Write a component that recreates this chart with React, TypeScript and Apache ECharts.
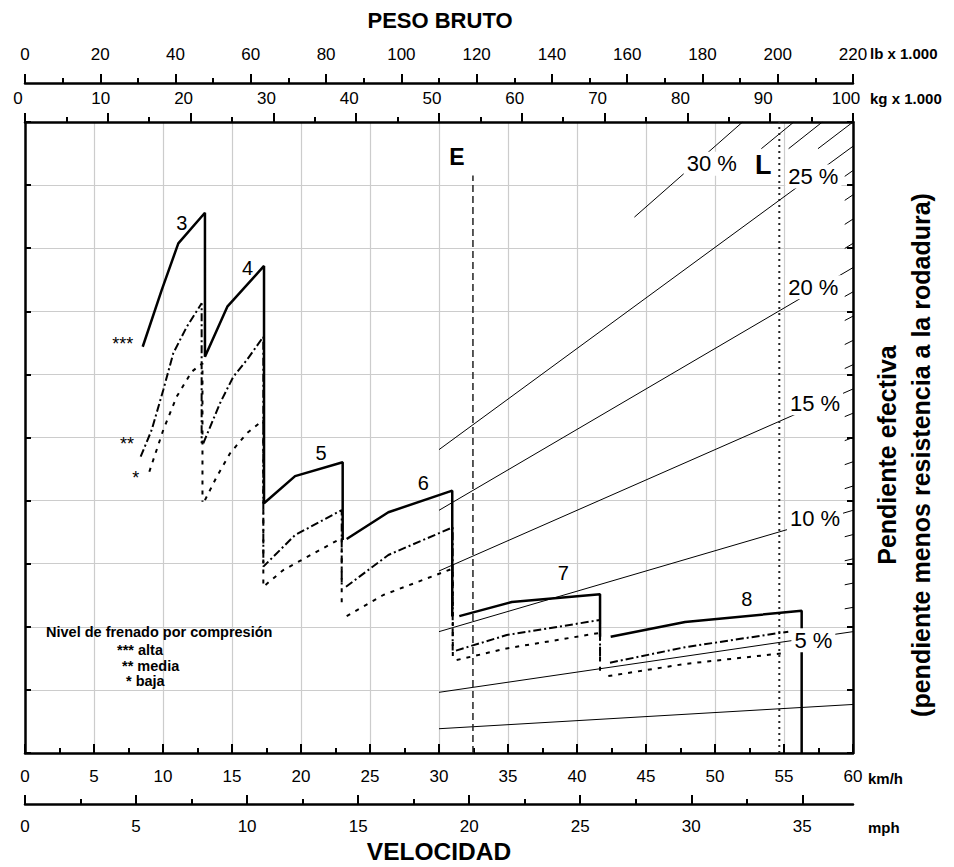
import React, { useEffect, useRef } from "react";
import * as echarts from "echarts";

const FONT = '"Liberation Sans", Arial, Helvetica, sans-serif';

// ---- axes ----
const kmhMax = 60;
const kmhInterval = 5;
const mphPerKmh = 0.621371;
const mphMajorTicks = [0, 5, 10, 15, 20, 25, 30, 35];
const mphMinorTicks = [2.5, 7.5, 12.5, 17.5, 22.5, 27.5, 32.5];
const kgMax = 100;
const kgInterval = 10;
const lbMax = 220;
const lbInterval = 20;
const rimpullMax = 26;
const rimpullInterval = 2.6;

// ---- retarder curves: [km/h, rimpull (t)] one sub-array per continuous stroke ----
const brakeHigh = [
  [[8.53, 16.74], [9.91, 19.08], [11.11, 21.0], [13.04, 22.26], [13.04, 16.33], [14.66, 18.39], [17.32, 20.07], [17.32, 10.29], [19.57, 11.41], [23.02, 11.98], [23.02, 8.78]],
  [[23.31, 8.82], [26.33, 9.92], [30.96, 10.81], [30.96, 5.62]],
  [[31.47, 5.64], [35.27, 6.22], [41.67, 6.54], [41.67, 4.79]],
  [[42.44, 4.79], [47.83, 5.4], [56.28, 5.86], [56.28, 0]],
];
const brakeMedium = [
  [[8.38, 12.21], [9.18, 13.31], [10.02, 14.96], [10.75, 16.48], [11.72, 17.56], [12.8, 18.53], [12.8, 12.76]],
  [[12.92, 12.76], [14.13, 14.41], [15.09, 15.5], [16.07, 16.19], [17.27, 17.15], [17.27, 7.68], [19.57, 8.98], [22.95, 10.01], [22.95, 6.85]],
  [[23.26, 6.85], [26.33, 8.16], [30.99, 9.3], [30.99, 4.22]],
  [[31.23, 4.22], [34.91, 4.86], [41.67, 5.48], [41.67, 3.7]],
  [[42.39, 3.72], [47.83, 4.36], [55.31, 5.0]],
];
const brakeLow = [
  [[9.01, 11.59], [10.02, 13.31], [10.99, 14.68], [12.08, 15.71], [12.86, 16.06], [12.86, 10.35]],
  [[13.04, 10.42], [13.89, 11.38], [14.86, 12.35], [16.07, 13.17], [17.27, 13.72], [17.27, 6.85], [18.72, 7.54], [22.95, 8.86], [22.95, 6.03]],
  [[23.31, 5.64], [25.96, 6.51], [31.0, 7.6], [31.0, 3.86]],
  [[31.28, 3.83], [34.91, 4.31], [41.67, 4.95], [41.67, 3.14]],
  [[42.27, 3.17], [47.83, 3.67], [54.95, 4.11]],
];

const gearLabels = [
  { name: "3", value: [11.36, 21.85] },
  { name: "4", value: [16.12, 19.98] },
  { name: "5", value: [21.45, 12.35] },
  { name: "6", value: [28.86, 11.14] },
  { name: "7", value: [39.01, 7.43] },
  { name: "8", value: [52.3, 6.33] },
];
const levelMarks = [
  { name: "***", value: [7.08, 16.85] },
  { name: "**", value: [7.39, 12.73] },
  { name: "*", value: [8.02, 11.33] },
];

// ---- effective grade lines (weight t on top axis, rimpull = weight x grade) ----
const gradeFullLines = [2, 5, 10, 15, 20, 25];
const gradeFullFrom = 50;
const gradeLongLine = 30;
const gradeLongFrom = 73.6;
const gradeTickGrades = [6, 7, 8, 9, 11, 12, 13, 14, 16, 17, 18, 19, 21, 22, 23, 24];
const gradeTickFrom = 99;
const gradeCornerGrades = [26, 27, 28];
const gradeCornerFromRimpull = 24.9;

const gradeLabels = [
  { name: "30 %", value: [82.94, 24.28] },
  { name: "25 %", value: [95.21, 23.75] },
  { name: "20 %", value: [95.21, 19.19] },
  { name: "15 %", value: [95.41, 14.41] },
  { name: "10 %", value: [95.41, 9.67] },
  { name: "5 %", value: [95.21, 4.65] },
];
const emptyMark = [{ name: "E", value: [52.17, 24.55] }];
const loadedMark = [{ name: "L", value: [89.17, 24.23] }];
const emptyWeight = 54.1;
const emptyLineTop = 23.8;
const loadedWeight = 91.1;

function line(data: number[][], xAxisIndex: number, lineStyle: any, z = 3) {
  return {
    type: "line",
    xAxisIndex,
    yAxisIndex: 0,
    data,
    symbol: "none",
    silent: true,
    lineStyle: { color: "#000", ...lineStyle },
    z,
  };
}

function labels(data: any[], xAxisIndex: number, fontSize: number, bold: boolean, bg: boolean, z = 10) {
  return {
    type: "scatter",
    xAxisIndex,
    yAxisIndex: 0,
    data,
    symbolSize: 0,
    itemStyle: { color: "#000", opacity: 1 },
    silent: true,
    z,
    label: {
      show: true,
      position: "inside",
      formatter: "{b}",
      color: "#000",
      fontSize,
      fontFamily: FONT,
      fontWeight: bold ? "bold" : "normal",
      backgroundColor: bg ? "#fff" : "transparent",
      padding: bg ? [1, 3] : 0,
    },
  };
}

export default function App() {
  const ref = useRef<HTMLDivElement>(null);
  useEffect(() => {
    document.body.style.margin = "0";
    const chart = echarts.init(ref.current!, null, { renderer: "svg" });
    const axisLine = { show: true, onZero: false, lineStyle: { color: "#000", width: 2.5 } };
    const tickStyle = { color: "#000", width: 2 };
    const labelStyle = { color: "#000", fontSize: 17, fontFamily: FONT };

    const series: any[] = [];
    brakeHigh.forEach((s) => series.push(line(s, 0, { width: 2.5, type: "solid" }, 6)));
    brakeMedium.forEach((s) => series.push(line(s, 0, { width: 2, type: [8, 3, 2, 3] }, 5)));
    brakeLow.forEach((s) => series.push(line(s, 0, { width: 2, type: [4, 6] }, 5)));

    gradeFullLines.forEach((g) =>
      series.push(line([[gradeFullFrom, (gradeFullFrom * g) / 100], [kgMax, (kgMax * g) / 100]], 3, { width: 1 }))
    );
    series.push(
      line([[gradeLongFrom, (gradeLongFrom * gradeLongLine) / 100], [(rimpullMax * 100) / gradeLongLine, rimpullMax]], 3, { width: 1 })
    );
    gradeTickGrades.forEach((g) =>
      series.push(line([[gradeTickFrom, (gradeTickFrom * g) / 100], [kgMax, (kgMax * g) / 100]], 3, { width: 1 }))
    );
    gradeCornerGrades.forEach((g) =>
      series.push(line([[(gradeCornerFromRimpull * 100) / g, gradeCornerFromRimpull], [(rimpullMax * 100) / g, rimpullMax]], 3, { width: 1 }))
    );
    series.push(line([[emptyWeight, 0], [emptyWeight, emptyLineTop]], 3, { width: 1.5, type: [7, 4], color: "#222" }, 4));
    series.push(line([[loadedWeight, 0], [loadedWeight, rimpullMax]], 3, { width: 2, type: [2, 4], color: "#222" }, 4));

    series.push(labels(gradeLabels, 3, 22, false, true, 12));
    series.push(labels(emptyMark, 3, 23, true, true, 12));
    series.push(labels(loadedMark, 3, 27, true, true, 12));
    series.push(labels(gearLabels, 0, 20, false, false, 12));
    series.push(labels(levelMarks, 0, 18, false, false, 12));

    const txt = (text: string, x: number, y: number, size: number, align = "left", rotation = 0) => ({
      type: "text",
      x,
      y,
      rotation,
      z: 100,
      silent: true,
      style: {
        text,
        x: 0,
        y: 0,
        fill: "#000",
        font: `bold ${size}px ${FONT}`,
        textAlign: align,
        textVerticalAlign: "middle",
        align,
        verticalAlign: "middle",
      },
    });

    chart.setOption({
      animation: false,
      backgroundColor: "#fff",
      grid: { left: 25, right: 101, top: 122, bottom: 114, containLabel: false },
      xAxis: [
        {
          type: "value",
          position: "bottom",
          min: 0,
          max: kmhMax,
          interval: kmhInterval,
          axisLine,
          axisTick: { show: true, inside: true, length: 9, lineStyle: tickStyle },
          minorTick: { show: true, splitNumber: 2, length: 5, lineStyle: tickStyle },
          axisLabel: { ...labelStyle, margin: 15 },
          splitLine: { show: true, lineStyle: { color: "#cccccc", width: 1.2 } },
        },
        {
          type: "value",
          position: "bottom",
          offset: 51,
          min: 0,
          max: kmhMax * mphPerKmh,
          axisLine,
          axisTick: { show: true, inside: true, length: 9, lineStyle: tickStyle, customValues: mphMajorTicks },
          axisLabel: { ...labelStyle, margin: 14, customValues: mphMajorTicks },
          splitLine: { show: false },
        },
        {
          type: "value",
          position: "bottom",
          offset: 51,
          min: 0,
          max: kmhMax * mphPerKmh,
          axisLine: { show: false, onZero: false },
          axisTick: { show: true, inside: true, length: 5, lineStyle: tickStyle, customValues: mphMinorTicks },
          axisLabel: { show: false },
          splitLine: { show: false },
        },
        {
          type: "value",
          position: "top",
          min: 0,
          max: kgMax,
          interval: kgInterval,
          axisLine,
          axisTick: { show: true, inside: false, length: 9, lineStyle: tickStyle },
          minorTick: { show: true, splitNumber: 2, length: 5, lineStyle: tickStyle },
          axisLabel: { ...labelStyle, margin: 15, padding: [0, 14, 0, 0] },
          splitLine: { show: false },
        },
        {
          type: "value",
          position: "top",
          offset: 39,
          min: 0,
          max: lbMax,
          interval: lbInterval,
          axisLine,
          axisTick: { show: true, inside: false, length: 9, lineStyle: tickStyle },
          minorTick: { show: true, splitNumber: 2, length: 5, lineStyle: tickStyle },
          axisLabel: { ...labelStyle, margin: 20 },
          splitLine: { show: false },
        },
      ],
      yAxis: [
        {
          type: "value",
          position: "left",
          min: 0,
          max: rimpullMax,
          interval: rimpullInterval,
          axisLine,
          axisTick: { show: true, inside: true, length: 6, lineStyle: tickStyle },
          axisLabel: { show: false },
          splitLine: { show: true, lineStyle: { color: "#cccccc", width: 1.2 } },
        },
        {
          type: "value",
          position: "right",
          min: 0,
          max: rimpullMax,
          interval: rimpullInterval,
          axisLine,
          axisTick: { show: true, inside: true, length: 6, lineStyle: tickStyle },
          axisLabel: { show: false },
          splitLine: { show: false },
        },
      ],
      graphic: [
        txt("PESO BRUTO", 440, 20, 22, "center"),
        txt("VELOCIDAD", 439, 851, 24.5, "center"),
        txt("lb x 1.000", 870, 53, 15),
        txt("kg x 1.000", 870, 98, 15),
        txt("km/h", 868, 778, 15),
        txt("mph", 868, 827, 15),
        txt("Pendiente efectiva", 887, 455, 25, "center", Math.PI / 2),
        txt("(pendiente menos resistencia a la rodadura)", 921, 455, 25, "center", Math.PI / 2),
        txt("Nivel de frenado por compresión", 46, 632, 14.5),
        txt("*** alta", 117, 650, 14.5),
        txt("** media", 122, 666, 14.5),
        txt("* baja", 126, 681, 14.5),
      ],
      series,
    });
    return () => chart.dispose();
  }, []);
  return <div ref={ref} style={{ width: 954, height: 867 }} />;
}
